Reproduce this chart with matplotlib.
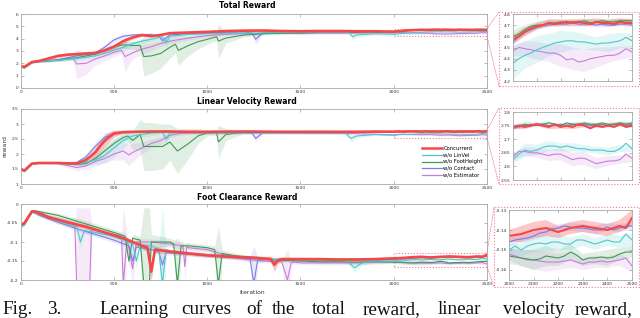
import numpy as np
import matplotlib.pyplot as plt
from matplotlib.patches import Rectangle, ConnectionPatch
from matplotlib.ticker import FuncFormatter

plt.rcParams['axes.unicode_minus'] = False

labels = ['Concurrent', 'w/o LinVel', 'w/o FootHeight', 'w/o Contact', 'w/o Estimator']
colors = ['#f24848', '#4cc8c8', '#3f9a55', '#7a7cec', '#c97ddb']

# zoomed part, 2000..2500
tail_x = np.arange(2000, 2501, 25)
tail_sd_x = np.arange(2000, 2501, 50)

# ---------------- Total Reward ----------------
tot_conc_x = [0, 20, 60, 100, 150, 200, 250, 300, 350, 400, 450, 500, 550, 600, 650, 700, 750, 800, 900, 1000, 1100, 1200, 1300, 1400, 1500, 1600, 1700, 1800, 1900]
tot_conc_y = [1.75, 1.72, 2.1, 2.2, 2.4, 2.6, 2.7, 2.75, 2.8, 2.85, 3.05, 3.35, 3.8, 4.1, 4.3, 4.2, 4.3, 4.45, 4.5, 4.55, 4.62, 4.65, 4.66, 4.62, 4.6, 4.62, 4.62, 4.6, 4.6]
tot_conc_sd = [0.08, 0.08, 0.06, 0.08, 0.12, 0.15, 0.12, 0.1, 0.1, 0.12, 0.15, 0.2, 0.2, 0.15, 0.12, 0.1, 0.1, 0.08, 0.08, 0.07, 0.06, 0.06, 0.06, 0.06, 0.06, 0.06, 0.05, 0.05, 0.05]

tot_contact_x = [0, 20, 60, 100, 200, 300, 400, 450, 500, 550, 600, 700, 740, 760, 800, 900, 1000, 1100, 1200, 1240, 1260, 1300, 1400, 1500, 1600, 1700, 1800, 1900]
tot_contact_y = [1.75, 1.7, 2.1, 2.15, 2.3, 2.6, 2.85, 3.3, 3.9, 4.2, 4.3, 4.35, 4.2, 3.85, 4.3, 4.4, 4.45, 4.5, 4.55, 4.45, 3.95, 4.5, 4.55, 4.55, 4.57, 4.55, 4.57, 4.58]
tot_contact_sd = [0.08, 0.08, 0.06, 0.08, 0.1, 0.12, 0.15, 0.2, 0.2, 0.15, 0.12, 0.1, 0.15, 0.3, 0.15, 0.1, 0.08, 0.07, 0.06, 0.1, 0.4, 0.1, 0.06, 0.05, 0.05, 0.05, 0.05, 0.05]

tot_linvel_x = [0, 20, 60, 100, 200, 300, 400, 450, 500, 550, 600, 650, 700, 760, 780, 800, 900, 1000, 1100, 1200, 1300, 1400, 1500, 1600, 1700, 1760, 1780, 1800, 1900]
tot_linvel_y = [1.7, 1.62, 2.05, 2.15, 2.25, 2.4, 2.6, 2.8, 3.05, 3.3, 3.6, 3.8, 3.95, 4.15, 3.7, 4.2, 4.35, 4.4, 4.45, 4.45, 4.48, 4.5, 4.5, 4.52, 4.52, 4.5, 4.15, 4.3, 4.4]
tot_linvel_sd = [0.08, 0.1, 0.06, 0.08, 0.1, 0.15, 0.2, 0.25, 0.3, 0.3, 0.25, 0.2, 0.15, 0.15, 0.4, 0.15, 0.1, 0.08, 0.08, 0.07, 0.07, 0.06, 0.06, 0.06, 0.06, 0.08, 0.25, 0.2, 0.12]

tot_foot_x = [0, 20, 60, 100, 200, 300, 400, 450, 500, 550, 600, 640, 660, 700, 750, 800, 830, 845, 900, 950, 1000, 1050, 1060, 1100, 1200, 1300, 1400, 1500, 1600, 1700, 1800, 1900]
tot_foot_y = [1.75, 1.7, 2.1, 2.15, 2.25, 2.45, 2.75, 3.05, 3.35, 3.5, 3.45, 3.45, 2.55, 2.6, 2.8, 3.3, 3.55, 3.05, 3.45, 3.75, 3.95, 4.15, 3.8, 4.05, 4.3, 4.4, 4.45, 4.45, 4.5, 4.5, 4.52, 4.55]
tot_foot_sd = [0.08, 0.08, 0.06, 0.08, 0.1, 0.12, 0.15, 0.2, 0.25, 0.3, 0.3, 0.4, 1.6, 1.4, 1.2, 0.9, 0.7, 1.2, 0.8, 0.6, 0.4, 0.3, 1.4, 0.4, 0.15, 0.1, 0.08, 0.07, 0.06, 0.06, 0.06, 0.06]

tot_est_x = [0, 20, 60, 100, 200, 280, 300, 350, 400, 450, 500, 540, 560, 580, 600, 650, 700, 750, 800, 900, 1000, 1100, 1200, 1300, 1400, 1500, 1600, 1700, 1800, 1900]
tot_est_y = [1.75, 1.7, 2.1, 2.15, 2.3, 2.45, 1.95, 2.0, 2.35, 2.6, 2.9, 3.05, 2.55, 2.7, 2.85, 3.15, 3.35, 3.6, 3.8, 4.05, 4.25, 4.35, 4.4, 4.42, 4.45, 4.45, 4.45, 4.45, 4.45, 4.48]
tot_est_sd = [0.08, 0.08, 0.06, 0.08, 0.12, 0.2, 1.2, 0.9, 0.5, 0.4, 0.35, 0.3, 1.3, 0.8, 0.5, 0.4, 0.3, 0.25, 0.2, 0.15, 0.12, 0.1, 0.1, 0.1, 0.1, 0.12, 0.12, 0.1, 0.1, 0.08]

tot_conc_tail = [4.57, 4.6, 4.64, 4.67, 4.69, 4.7, 4.72, 4.71, 4.72, 4.73, 4.72, 4.73, 4.72, 4.71, 4.73, 4.72, 4.72, 4.71, 4.73, 4.72, 4.72]
tot_linvel_tail = [4.36, 4.4, 4.43, 4.45, 4.48, 4.5, 4.52, 4.54, 4.55, 4.56, 4.56, 4.55, 4.55, 4.54, 4.53, 4.54, 4.54, 4.55, 4.56, 4.59, 4.56]
tot_foot_tail = [4.6, 4.62, 4.66, 4.69, 4.7, 4.7, 4.72, 4.72, 4.73, 4.72, 4.73, 4.73, 4.74, 4.72, 4.73, 4.74, 4.73, 4.73, 4.74, 4.74, 4.74]
tot_contact_tail = [4.55, 4.6, 4.64, 4.66, 4.68, 4.7, 4.7, 4.71, 4.71, 4.71, 4.72, 4.71, 4.71, 4.71, 4.7, 4.71, 4.7, 4.7, 4.71, 4.71, 4.71]
tot_est_tail = [4.47, 4.5, 4.49, 4.48, 4.47, 4.46, 4.45, 4.45, 4.43, 4.39, 4.4, 4.37, 4.38, 4.4, 4.41, 4.42, 4.43, 4.43, 4.45, 4.49, 4.46]

tot_conc_tail_sd = [0.04, 0.04, 0.03, 0.03, 0.03, 0.03, 0.03, 0.03, 0.03, 0.03, 0.03]
tot_linvel_tail_sd = [0.15, 0.12, 0.12, 0.1, 0.1, 0.08, 0.07, 0.06, 0.08, 0.07, 0.06]
tot_foot_tail_sd = [0.05, 0.04, 0.03, 0.03, 0.02, 0.02, 0.02, 0.02, 0.02, 0.02, 0.02]
tot_contact_tail_sd = [0.03, 0.03, 0.02, 0.02, 0.02, 0.02, 0.02, 0.02, 0.02, 0.02, 0.02]
tot_est_tail_sd = [0.05, 0.07, 0.08, 0.08, 0.1, 0.1, 0.1, 0.09, 0.07, 0.06, 0.05]

# ---------------- Linear Velocity Reward ----------------
lin_conc_x = [0, 20, 60, 100, 200, 300, 350, 400, 430, 460, 500, 550, 600, 700, 800, 900, 1000, 1200, 1400, 1600, 1800, 1900]
lin_conc_y = [1.5, 1.45, 1.68, 1.7, 1.7, 1.68, 1.8, 2.05, 2.3, 2.5, 2.68, 2.73, 2.74, 2.75, 2.75, 2.74, 2.74, 2.75, 2.74, 2.74, 2.74, 2.745]
lin_conc_sd = [0.04, 0.04, 0.02, 0.02, 0.02, 0.03, 0.08, 0.15, 0.2, 0.2, 0.12, 0.05, 0.03, 0.03, 0.03, 0.04, 0.04, 0.03, 0.03, 0.02, 0.02, 0.01]

lin_contact_x = [0, 20, 60, 100, 200, 300, 350, 400, 450, 500, 550, 600, 700, 800, 1000, 1200, 1240, 1260, 1300, 1500, 1700, 1900]
lin_contact_y = [1.5, 1.45, 1.68, 1.7, 1.7, 1.72, 1.9, 2.25, 2.55, 2.7, 2.73, 2.74, 2.73, 2.74, 2.73, 2.73, 2.7, 2.52, 2.72, 2.73, 2.74, 2.745]
lin_contact_sd = [0.04, 0.04, 0.02, 0.02, 0.02, 0.04, 0.1, 0.15, 0.15, 0.08, 0.04, 0.03, 0.03, 0.03, 0.03, 0.03, 0.04, 0.1, 0.04, 0.02, 0.02, 0.01]

lin_linvel_x = [0, 20, 60, 100, 200, 300, 400, 450, 500, 550, 600, 650, 700, 760, 780, 800, 900, 1000, 1200, 1400, 1600, 1740, 1770, 1800, 1900]
lin_linvel_y = [1.48, 1.42, 1.67, 1.7, 1.7, 1.65, 1.8, 1.95, 2.2, 2.45, 2.6, 2.65, 2.7, 2.72, 2.5, 2.7, 2.72, 2.7, 2.7, 2.7, 2.7, 2.7, 2.52, 2.6, 2.65]
lin_linvel_sd = [0.05, 0.05, 0.02, 0.02, 0.02, 0.05, 0.15, 0.25, 0.3, 0.25, 0.15, 0.1, 0.08, 0.06, 0.2, 0.06, 0.04, 0.04, 0.03, 0.03, 0.03, 0.03, 0.12, 0.06, 0.03]

lin_foot_x = [0, 20, 60, 100, 200, 300, 350, 400, 450, 500, 550, 575, 600, 640, 660, 700, 760, 800, 840, 900, 950, 1000, 1050, 1060, 1100, 1200, 1400, 1600, 1800, 1900]
lin_foot_y = [1.5, 1.45, 1.68, 1.7, 1.7, 1.65, 1.68, 1.85, 2.1, 2.35, 2.55, 2.6, 2.45, 2.65, 2.25, 2.25, 2.25, 2.4, 2.1, 2.35, 2.6, 2.7, 2.72, 2.4, 2.65, 2.73, 2.75, 2.75, 2.75, 2.755]
lin_foot_sd = [0.04, 0.04, 0.02, 0.02, 0.02, 0.04, 0.06, 0.12, 0.15, 0.15, 0.12, 0.15, 0.3, 0.5, 0.8, 0.8, 0.75, 0.6, 0.75, 0.5, 0.25, 0.1, 0.1, 0.55, 0.2, 0.04, 0.03, 0.02, 0.02, 0.01]

lin_est_x = [0, 20, 60, 100, 200, 300, 350, 400, 450, 500, 550, 580, 600, 650, 700, 750, 800, 850, 900, 1000, 1200, 1400, 1600, 1800, 1900]
lin_est_y = [1.5, 1.45, 1.68, 1.7, 1.68, 1.55, 1.6, 1.75, 1.85, 2.0, 2.1, 1.97, 2.05, 2.2, 2.35, 2.45, 2.62, 2.68, 2.7, 2.7, 2.7, 2.7, 2.69, 2.68, 2.66]
lin_est_sd = [0.04, 0.04, 0.02, 0.02, 0.03, 0.1, 0.12, 0.15, 0.15, 0.2, 0.3, 0.35, 0.3, 0.2, 0.15, 0.12, 0.08, 0.06, 0.05, 0.05, 0.04, 0.04, 0.04, 0.03, 0.03]

lin_conc_tail = [2.745, 2.75, 2.745, 2.75, 2.755, 2.75, 2.745, 2.755, 2.745, 2.75, 2.745, 2.755, 2.75, 2.74, 2.75, 2.745, 2.75, 2.745, 2.755, 2.745, 2.75]
lin_linvel_tail = [2.625, 2.645, 2.66, 2.655, 2.66, 2.67, 2.675, 2.675, 2.67, 2.675, 2.67, 2.665, 2.665, 2.66, 2.66, 2.66, 2.655, 2.655, 2.665, 2.685, 2.665]
lin_foot_tail = [2.745, 2.75, 2.755, 2.75, 2.755, 2.755, 2.76, 2.755, 2.75, 2.76, 2.755, 2.755, 2.76, 2.755, 2.755, 2.76, 2.755, 2.755, 2.76, 2.755, 2.76]
lin_contact_tail = [2.74, 2.745, 2.75, 2.755, 2.75, 2.755, 2.75, 2.75, 2.755, 2.75, 2.755, 2.75, 2.755, 2.75, 2.75, 2.755, 2.75, 2.755, 2.755, 2.75, 2.755]
lin_est_tail = [2.635, 2.655, 2.655, 2.65, 2.65, 2.645, 2.64, 2.645, 2.645, 2.635, 2.625, 2.63, 2.63, 2.62, 2.61, 2.615, 2.62, 2.62, 2.625, 2.645, 2.63]

lin_conc_tail_sd = [0.008, 0.008, 0.006, 0.008, 0.006, 0.008, 0.006, 0.008, 0.006, 0.008, 0.008]
lin_linvel_tail_sd = [0.015, 0.025, 0.02, 0.018, 0.015, 0.015, 0.012, 0.012, 0.015, 0.012, 0.012]
lin_foot_tail_sd = [0.008, 0.008, 0.006, 0.006, 0.005, 0.006, 0.005, 0.005, 0.006, 0.005, 0.005]
lin_contact_tail_sd = [0.006, 0.006, 0.005, 0.005, 0.005, 0.005, 0.005, 0.005, 0.005, 0.005, 0.005]
lin_est_tail_sd = [0.015, 0.015, 0.018, 0.02, 0.022, 0.025, 0.025, 0.02, 0.018, 0.015, 0.015]

# ---------------- Foot Clearance Reward ----------------
foot_conc_x = [0, 20, 60, 80, 150, 250, 350, 450, 550, 650, 680, 700, 720, 800, 900, 1000, 1100, 1200, 1300, 1340, 1360, 1380, 1400, 1500, 1600, 1700, 1800, 1900]
foot_conc_y = [-0.055, -0.05, -0.02, -0.02, -0.035, -0.048, -0.06, -0.075, -0.09, -0.11, -0.115, -0.178, -0.12, -0.125, -0.13, -0.135, -0.138, -0.14, -0.143, -0.145, -0.16, -0.148, -0.145, -0.145, -0.145, -0.146, -0.146, -0.145]
foot_conc_sd = [0.005, 0.005, 0.003, 0.004, 0.006, 0.007, 0.006, 0.006, 0.006, 0.006, 0.01, 0.025, 0.01, 0.005, 0.005, 0.005, 0.005, 0.005, 0.005, 0.008, 0.018, 0.008, 0.005, 0.004, 0.004, 0.004, 0.004, 0.004]

foot_contact_x = [0, 20, 60, 100, 200, 300, 400, 500, 580, 600, 620, 700, 740, 760, 780, 900, 1000, 1100, 1200, 1230, 1250, 1270, 1300, 1400, 1500, 1600, 1700, 1800, 1900]
foot_contact_y = [-0.058, -0.05, -0.02, -0.03, -0.048, -0.065, -0.08, -0.095, -0.11, -0.15, -0.113, -0.12, -0.125, -0.16, -0.128, -0.132, -0.136, -0.14, -0.143, -0.145, -0.21, -0.148, -0.146, -0.147, -0.147, -0.146, -0.146, -0.147, -0.147]
foot_contact_sd = [0.005, 0.005, 0.003, 0.004, 0.005, 0.006, 0.006, 0.006, 0.006, 0.02, 0.006, 0.005, 0.006, 0.03, 0.006, 0.005, 0.005, 0.005, 0.005, 0.008, 0.1, 0.008, 0.005, 0.004, 0.004, 0.004, 0.004, 0.004, 0.004]

foot_linvel_x = [0, 20, 60, 100, 200, 300, 320, 340, 400, 500, 600, 620, 640, 700, 740, 760, 780, 800, 900, 1000, 1100, 1200, 1300, 1400, 1500, 1600, 1700, 1750, 1790, 1830, 1900]
foot_linvel_y = [-0.06, -0.055, -0.02, -0.025, -0.045, -0.06, -0.1, -0.07, -0.075, -0.085, -0.105, -0.15, -0.11, -0.11, -0.12, -0.21, -0.12, -0.125, -0.13, -0.133, -0.137, -0.14, -0.145, -0.146, -0.147, -0.148, -0.148, -0.15, -0.168, -0.155, -0.15]
foot_linvel_sd = [0.005, 0.005, 0.003, 0.004, 0.006, 0.006, 0.015, 0.008, 0.006, 0.006, 0.006, 0.02, 0.008, 0.006, 0.008, 0.2, 0.008, 0.006, 0.005, 0.005, 0.005, 0.005, 0.004, 0.004, 0.004, 0.004, 0.004, 0.005, 0.012, 0.006, 0.004]

foot_foot_x = [0, 20, 60, 100, 200, 300, 400, 500, 560, 580, 600, 640, 660, 690, 700, 800, 820, 840, 860, 900, 1000, 1040, 1060, 1080, 1100, 1200, 1300, 1400, 1500, 1600, 1700, 1800, 1900]
foot_foot_y = [-0.055, -0.05, -0.017, -0.02, -0.03, -0.045, -0.06, -0.075, -0.085, -0.15, -0.09, -0.095, -0.21, -0.21, -0.1, -0.1, -0.105, -0.21, -0.11, -0.11, -0.115, -0.12, -0.21, -0.13, -0.132, -0.14, -0.145, -0.148, -0.15, -0.152, -0.152, -0.153, -0.152]
foot_foot_sd = [0.005, 0.005, 0.003, 0.004, 0.006, 0.008, 0.008, 0.008, 0.008, 0.02, 0.01, 0.01, 0.2, 0.2, 0.02, 0.01, 0.01, 0.12, 0.01, 0.008, 0.008, 0.01, 0.15, 0.01, 0.008, 0.006, 0.006, 0.005, 0.005, 0.005, 0.005, 0.005, 0.005]

foot_est_x = [0, 20, 60, 100, 200, 290, 300, 370, 380, 400, 500, 540, 550, 570, 600, 620, 700, 800, 870, 880, 890, 900, 1000, 1100, 1200, 1300, 1400, 1430, 1450, 1470, 1500, 1600, 1700, 1800, 1900]
foot_est_y = [-0.055, -0.05, -0.018, -0.025, -0.04, -0.055, -0.21, -0.21, -0.065, -0.068, -0.08, -0.085, -0.21, -0.09, -0.17, -0.1, -0.1, -0.105, -0.11, -0.165, -0.112, -0.115, -0.12, -0.135, -0.145, -0.15, -0.152, -0.2, -0.155, -0.153, -0.155, -0.155, -0.155, -0.155, -0.153]
foot_est_sd = [0.005, 0.005, 0.003, 0.004, 0.006, 0.01, 0.2, 0.2, 0.01, 0.008, 0.008, 0.01, 0.2, 0.01, 0.05, 0.01, 0.008, 0.008, 0.01, 0.04, 0.01, 0.008, 0.008, 0.006, 0.006, 0.005, 0.005, 0.08, 0.006, 0.005, 0.005, 0.005, 0.005, 0.005, 0.005]

foot_conc_tail = [-0.143, -0.1425, -0.142, -0.141, -0.14, -0.1395, -0.139, -0.14, -0.141, -0.14, -0.139, -0.1385, -0.138, -0.1385, -0.139, -0.1395, -0.14, -0.139, -0.138, -0.139, -0.134]
foot_linvel_tail = [-0.15, -0.148, -0.15, -0.148, -0.147, -0.1465, -0.147, -0.146, -0.146, -0.147, -0.147, -0.145, -0.145, -0.146, -0.147, -0.146, -0.145, -0.146, -0.146, -0.142, -0.145]
foot_foot_tail = [-0.153, -0.1535, -0.154, -0.1545, -0.155, -0.1545, -0.153, -0.1535, -0.154, -0.153, -0.151, -0.1525, -0.155, -0.154, -0.154, -0.1535, -0.154, -0.1535, -0.152, -0.151, -0.151]
foot_contact_tail = [-0.146, -0.145, -0.1445, -0.144, -0.143, -0.1415, -0.141, -0.1395, -0.139, -0.138, -0.1385, -0.139, -0.139, -0.1395, -0.14, -0.14, -0.1385, -0.14, -0.139, -0.138, -0.138]
foot_est_tail = [-0.152, -0.153, -0.154, -0.155, -0.155, -0.1555, -0.156, -0.156, -0.156, -0.1555, -0.155, -0.156, -0.157, -0.156, -0.156, -0.1555, -0.156, -0.1555, -0.155, -0.154, -0.158]

foot_conc_tail_sd = [0.003, 0.004, 0.004, 0.004, 0.003, 0.003, 0.003, 0.003, 0.003, 0.003, 0.004]
foot_linvel_tail_sd = [0.003, 0.003, 0.004, 0.004, 0.004, 0.003, 0.003, 0.003, 0.003, 0.003, 0.003]
foot_foot_tail_sd = [0.004, 0.004, 0.005, 0.005, 0.004, 0.004, 0.003, 0.003, 0.004, 0.003, 0.003]
foot_contact_tail_sd = [0.002, 0.002, 0.002, 0.002, 0.002, 0.002, 0.002, 0.002, 0.002, 0.002, 0.002]
foot_est_tail_sd = [0.003, 0.004, 0.005, 0.005, 0.004, 0.004, 0.003, 0.003, 0.003, 0.003, 0.003]

# order: Concurrent, LinVel, FootHeight, Contact, Estimator
panels = [
    dict(title='Total Reward',
         data=[(tot_conc_x, tot_conc_y, tot_conc_sd, tot_conc_tail, tot_conc_tail_sd),
               (tot_linvel_x, tot_linvel_y, tot_linvel_sd, tot_linvel_tail, tot_linvel_tail_sd),
               (tot_foot_x, tot_foot_y, tot_foot_sd, tot_foot_tail, tot_foot_tail_sd),
               (tot_contact_x, tot_contact_y, tot_contact_sd, tot_contact_tail, tot_contact_tail_sd),
               (tot_est_x, tot_est_y, tot_est_sd, tot_est_tail, tot_est_tail_sd)],
         ylim=(0, 6), yticks=[0, 1, 2, 3, 4, 5, 6],
         zlim=(4.2, 4.8), zticks=[4.2, 4.3, 4.4, 4.5, 4.6, 4.7, 4.8],
         main=(20.7, 14, 487, 88), ins=(513, 14, 632, 81), box=(499, 12, 639, 86), ty=6),
    dict(title='Linear Velocity Reward',
         data=[(lin_conc_x, lin_conc_y, lin_conc_sd, lin_conc_tail, lin_conc_tail_sd),
               (lin_linvel_x, lin_linvel_y, lin_linvel_sd, lin_linvel_tail, lin_linvel_tail_sd),
               (lin_foot_x, lin_foot_y, lin_foot_sd, lin_foot_tail, lin_foot_tail_sd),
               (lin_contact_x, lin_contact_y, lin_contact_sd, lin_contact_tail, lin_contact_tail_sd),
               (lin_est_x, lin_est_y, lin_est_sd, lin_est_tail, lin_est_tail_sd)],
         ylim=(1, 3.5), yticks=[1, 1.5, 2, 2.5, 3, 3.5],
         zlim=(2.55, 2.8), zticks=[2.55, 2.6, 2.65, 2.7, 2.75, 2.8],
         main=(20.7, 109, 487, 184), ins=(513, 112, 632, 180), box=(499, 108, 639, 184), ty=101),
    dict(title='Foot Clearance Reward',
         data=[(foot_conc_x, foot_conc_y, foot_conc_sd, foot_conc_tail, foot_conc_tail_sd),
               (foot_linvel_x, foot_linvel_y, foot_linvel_sd, foot_linvel_tail, foot_linvel_tail_sd),
               (foot_foot_x, foot_foot_y, foot_foot_sd, foot_foot_tail, foot_foot_tail_sd),
               (foot_contact_x, foot_contact_y, foot_contact_sd, foot_contact_tail, foot_contact_tail_sd),
               (foot_est_x, foot_est_y, foot_est_sd, foot_est_tail, foot_est_tail_sd)],
         ylim=(-0.2, 0), yticks=[-0.2, -0.15, -0.1, -0.05, 0],
         zlim=(-0.165, -0.13), zticks=[-0.16, -0.15, -0.14, -0.13],
         main=(20.7, 204, 487, 280), ins=(509, 210, 632, 280), box=(494, 207, 639, 287), ty=197),
]

W, H = 640, 318
pink = '#f07a98'
fig = plt.figure(figsize=(6.4, 3.18), dpi=100)


def px_axes(l, t, r, b):
    return fig.add_axes([l / W, 1 - b / H, (r - l) / W, (b - t) / H])


def style(ax):
    for s in ax.spines.values():
        s.set_color('#a8a8a8')
        s.set_linewidth(0.6)
    ax.tick_params(direction='in', length=2, width=0.4, color='#888888', labelsize=3.2,
                   labelcolor='#333333', top=True, right=True, pad=1.5)
    ax.yaxis.set_major_formatter(FuncFormatter(lambda v, _: f'{v:g}'))


def draw(ax, data, lw_main):
    handles = {}
    for i in [4, 3, 2, 1, 0]:
        x, y, sd, tail, tail_sd = data[i]
        xs = np.concatenate([x, tail_x])
        ys = np.concatenate([y, tail])
        xb = np.concatenate([x, tail_sd_x])
        yb = np.concatenate([y, np.array(tail)[::2]])
        sb = np.concatenate([sd, tail_sd])
        ax.fill_between(xb, yb - sb, yb + sb, color=colors[i], alpha=0.3 if i == 0 else 0.16, lw=0)
        ln, = ax.plot(xs, ys, color=colors[i], lw=lw_main if i == 0 else 0.8, label=labels[i])
        handles[i] = ln
    return [handles[i] for i in range(5)]


for k, p in enumerate(panels):
    ax = px_axes(*p['main'])
    hs = draw(ax, p['data'], 1.9)
    ax.set_xlim(0, 2500)
    ax.set_ylim(*p['ylim'])
    ax.set_xticks([0, 500, 1000, 1500, 2000, 2500])
    ax.set_yticks(p['yticks'])
    style(ax)
    z0, z1 = p['zlim']
    ax.add_patch(Rectangle((2000, z0), 500, z1 - z0, fill=False, ec=pink, ls=':', lw=0.8, clip_on=False))
    fig.text(247 / W, 1 - p['ty'] / H, p['title'], ha='center', va='center', fontsize=5.5, fontweight='bold')

    axi = px_axes(*p['ins'])
    draw(axi, p['data'], 1.5)
    axi.set_xlim(2000, 2500)
    axi.set_ylim(z0, z1)
    axi.set_yticks(p['zticks'])
    axi.set_xticks([2000, 2100, 2200, 2300, 2400, 2500])
    style(axi)
    if k < 2:
        axi.set_xticklabels([])

    bl, bt, br, bb = p['box']
    fig.add_artist(Rectangle((bl / W, 1 - bb / H), (br - bl) / W, (bb - bt) / H, transform=fig.transFigure,
                             fill=False, ec=pink, ls=':', lw=0.8))
    for yy, by in [(z1, bt), (z0, bb)]:
        fig.add_artist(ConnectionPatch(xyA=(2500, yy), coordsA=ax.transData,
                                       xyB=(bl / W, 1 - by / H), coordsB=fig.transFigure,
                                       color=pink, ls=':', lw=0.6))

    if k == 1:
        ax.set_ylabel('reward', fontsize=4.5, color='#333333', labelpad=3)
        leg = ax.legend(hs, labels, loc='lower right', bbox_to_anchor=(1.0, 0.03), fontsize=3.8,
                        handlelength=3.8, labelspacing=0.3, borderpad=0.3, handletextpad=0.3,
                        frameon=True, edgecolor='none', framealpha=1)
        for ln in leg.get_lines():
            ln.set_linewidth(1.8 if ln.get_label() == 'Concurrent' else 0.9)
    if k == 2:
        fig.text(252 / W, 1 - 293 / H, 'iteration', ha='center', va='center', fontsize=4.3, color='#333333')

# caption, justified words
cap_words = ['Fig.', '3.', 'Learning', 'curves', 'of', 'the', 'total', 'reward,', 'linear', 'velocity', 'reward,']
cap_x = [2, 47, 99, 181, 246, 272, 312, 363, 438, 503, 575]
for w, xw in zip(cap_words, cap_x):
    fig.text(xw / W, 1 - 314 / H, w, ha='left', va='baseline', fontsize=13.8,
             family=['Liberation Serif', 'DejaVu Serif'], color='#111111')

fig.savefig('out.png', dpi=100)
